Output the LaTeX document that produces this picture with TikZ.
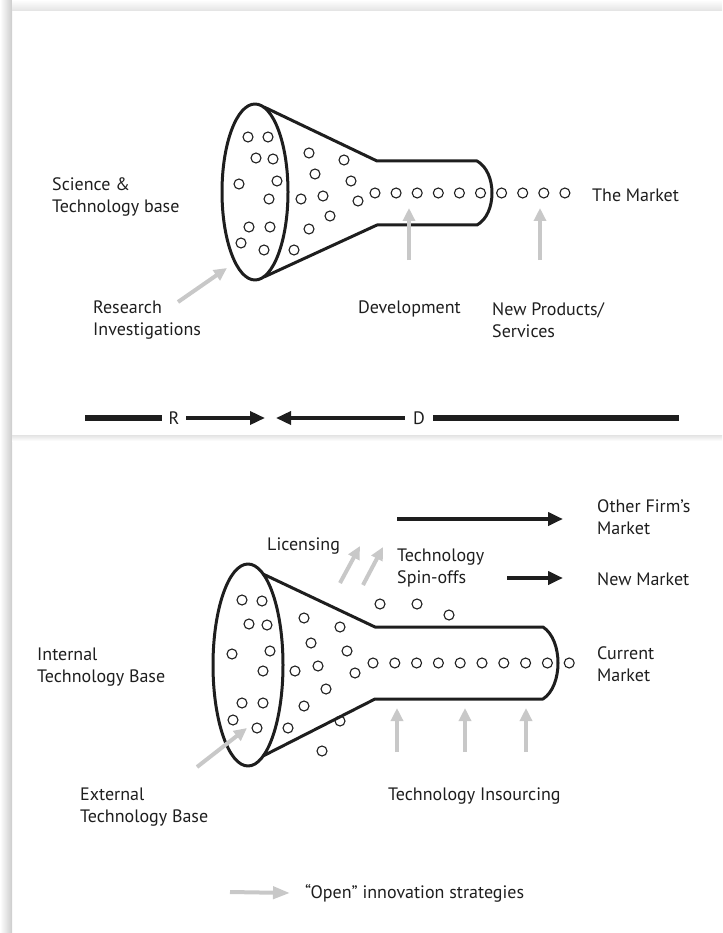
\documentclass[tikz,border=0pt]{standalone}
\usepackage{fontspec}
\setmainfont{PT Sans}
\usetikzlibrary{arrows.meta}

\definecolor{opengray}{RGB}{200,200,200}
\definecolor{inkblack}{RGB}{30,30,30}

\tikzset{
  dot/.style={circle, draw=inkblack, line width=1.1pt, minimum size=10pt, inner sep=0pt},
  txt/.style={anchor=west, align=left, inner sep=0pt, text=inkblack, font=\fontsize{18}{22.5}\selectfont},
  funnel/.style={draw=inkblack, line width=3pt, line join=round},
  openarrow/.style={draw=opengray, line width=4pt, -{Triangle[length=13pt,width=12pt]}},
  firmarrow/.style={draw=inkblack, line width=4pt, -{Triangle[length=15pt,width=13pt]}},
  rdbar/.style={draw=inkblack, line width=6pt},
}

\begin{document}
\begin{tikzpicture}[x=1pt,y=-1pt]
  \useasboundingbox (0,0) rectangle (722,933);

  % page edges and panel divider
  \shade[left color=white, right color=gray!40] (0,0) rectangle (12,933);
  \shade[top color=white, bottom color=gray!22] (12,0) rectangle (722,11);
  \shade[top color=gray!22, bottom color=white] (12,435) rectangle (722,441);

  %%% closed innovation (top)
  % Draw the funnel
  \draw[funnel] (255,192) ellipse [x radius=33, y radius=88];
  \draw[funnel] (264,107) -- (377,161) -- (477,161)
    .. controls (497,172) and (497,214) .. (477,225) -- (377,225) -- (264,277);

  % Draw the ideas
  \foreach \x/\y [count=\i] in {248/137, 268/137, 256/158, 273/159, 239/184, 277/181, 269/199,
      249/227, 270/227, 241/243, 264/250, 309/153, 344/160, 315/174, 351/181, 301/199,
      323/196, 358/201, 330/216, 309/229, 294/250} {
    \node[dot] (ta\i) at (\x,\y) {};
  }
  \foreach \i in {0,...,9} {
    \node[dot] (tt\i) at (375+21.1*\i,193) {};
  }

  % Labels
  \node[txt] (scibase) at (52,197) {Science \&\\Technology base};
  \node[txt] (research) at (93,320) {Research\\Investigations};
  \node[txt] (develop) at (358,309) {Development};
  \node[txt] (products) at (492,320) {New Products/\\Services};
  \node[txt] (market) at (592,195) {The Market};

  \coordinate (rs0) at (178,302); \coordinate (rs1) at (227,268);
  \coordinate (dv0) at (409,260); \coordinate (dv1) at (409,208);
  \coordinate (np0) at (540,260); \coordinate (np1) at (540,208);
  \draw[openarrow] (rs0) -- (rs1);
  \draw[openarrow] (dv0) -- (dv1);
  \draw[openarrow] (np0) -- (np1);

  % R -> <- D bar
  \node[txt, anchor=center, inner sep=6.5pt] (rlab) at (174,418) {R};
  \node[txt, anchor=center, inner sep=8pt] (dlab) at (419,418) {D};
  \coordinate (rdstart) at (85,418);
  \coordinate (rdend) at (679,418);
  \coordinate (rmeet) at (265,418);
  \coordinate (dmeet) at (276,418);
  \draw[rdbar] (rdstart) -- (rlab.west);
  \draw[firmarrow, line width=3.5pt] (rlab.east) -- (rmeet);
  \draw[firmarrow, line width=3.5pt] (dlab.west) -- (dmeet);
  \draw[rdbar] (dlab.east) -- (rdend);

  %%% open innovation (bottom)
  % Draw the funnel
  \draw[funnel] (248,665) ellipse [x radius=35, y radius=101];
  \draw[funnel] (263,574) -- (375,627) -- (543,627)
    .. controls (563,640) and (563,686) .. (543,699) -- (375,699) -- (263,756);

  % Draw the ideas
  \foreach \x/\y [count=\i] in {242/600, 262/601, 249/624, 267/625, 232/654, 270/651, 263/671,
      242/703, 263/703, 233/720, 257/728, 304/618, 340/627, 311/643, 347/651, 295/671,
      318/666, 355/673, 326/689, 304/706, 288/728, 340/721, 322/751, 380/604, 417/604, 449/615} {
    \node[dot] (ba\i) at (\x,\y) {};
  }
  \foreach \i in {0,...,9} {
    \node[dot] (bt\i) at (373+21.8*\i,663) {};
  }

  % Labels
  \node[txt] (licensing) at (267,546) {Licensing};
  \node[txt] (spinoffs) at (397,568) {Technology\\Spin-offs};
  \node[txt] (otherfirm) at (597,517) {Other Firm's\\Market};
  \node[txt] (newmarket) at (597,579) {New Market};
  \node[txt] (current) at (597,664) {Current\\Market};
  \node[txt] (internal) at (37,667) {Internal\\Technology Base};
  \node[txt] (external) at (80,807) {External\\Technology Base};
  \node[txt] (insourcing) at (388,796) {Technology Insourcing};

  \coordinate (lc0) at (340,583); \coordinate (lc1) at (360,546);
  \coordinate (so0) at (363,585); \coordinate (so1) at (383,547);
  \coordinate (ex0) at (197,767); \coordinate (ex1) at (247,728);
  \draw[openarrow] (lc0) -- (lc1);
  \draw[openarrow] (so0) -- (so1);
  \draw[openarrow] (ex0) -- (ex1);
  \foreach \x [count=\i] in {397,465,526} {
    \coordinate (in\i a) at (\x,752);
    \coordinate (in\i b) at (\x,708);
    \draw[openarrow] (in\i a) -- (in\i b);
  }

  \coordinate (of0) at (397,519); \coordinate (of1) at (563,519);
  \coordinate (nm0) at (507,578); \coordinate (nm1) at (563,578);
  \draw[firmarrow] (of0) -- (of1);
  \draw[firmarrow] (nm0) -- (nm1);

  % Legend
  \node[txt] (legend) at (305,893) {``Open'' innovation strategies};
  \coordinate (lg0) at (230,892);
  \draw[openarrow, -{Triangle[length=17pt,width=12pt]}] (lg0) -- (legend.west -| 290,0);
\end{tikzpicture}
\end{document}
